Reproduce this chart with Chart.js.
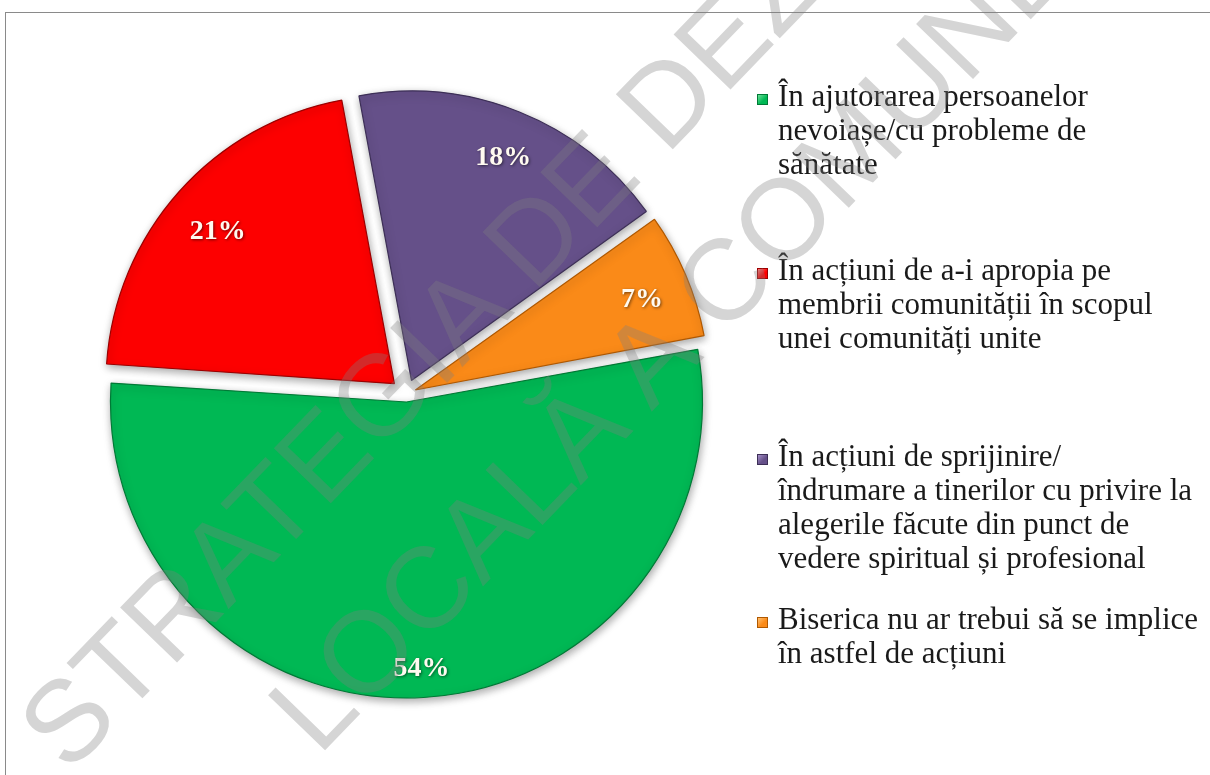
<!DOCTYPE html>
<html lang="ro">
<head>
<meta charset="utf-8">
<title>Implicarea Bisericii în comunitate</title>
<script src="https://cdn.jsdelivr.net/npm/chart.js@4.4.1/dist/chart.umd.min.js"></script>
<style>
  html, body { margin: 0; padding: 0; width: 1210px; height: 775px; overflow: hidden; background: #fff; }
  #frame { position: absolute; left: 5px; top: 12px; width: 1400px; height: 900px; border: 1px solid #8a8a8a; }
  #pieBox { position: absolute; left: 0; top: 13px; width: 812px; height: 762px; }
  #legend { position: absolute; left: 757px; top: 0; font-family: 'Liberation Serif', 'Times New Roman', serif;
            font-size: 31px; line-height: 34px; color: #1a1a1a; }
  #legend .item { position: absolute; left: 0; white-space: nowrap; }
  #legend .box { position: absolute; left: 0; top: 15px; width: 11px; height: 11px; box-sizing: border-box; }
  #legend .txt { margin-left: 21px; }
  .wm { position: absolute; font-family: 'Liberation Sans', Arial, sans-serif; font-size: 115px; line-height: 1;
        color: rgba(128, 128, 128, 0.33); white-space: nowrap; transform-origin: 0 50%;
        transform: rotate(-46deg); pointer-events: none; }
</style>
</head>
<body>
<div id="frame"></div>
<div id="pieBox"><canvas id="pie"></canvas></div>
<div id="legend"></div>
<div class="wm" style="left:40px; top:690px;">STRATEGIA DE DEZVOLTARE</div>
<div class="wm" style="left:290px; top:672px;">LOCALĂ A COMUNEI</div>

<script>
// categories, one entry per legend line
const categories = [
  ['În ajutorarea persoanelor', 'nevoiașe/cu probleme de', 'sănătate'],
  ['În acțiuni de a-i apropia pe', 'membrii comunității în scopul', 'unei comunități unite'],
  ['În acțiuni de sprijinire/', 'îndrumare a tinerilor cu privire la', 'alegerile făcute din punct de', 'vedere spiritual și profesional'],
  ['Biserica nu ar trebui să se implice', 'în astfel de acțiuni']
];
const shares = [54, 21, 18, 7];

const fillColors = ['#00b854', '#fd0000', '#655089', '#fa8a18'];
const edgeColors = ['#007a36', '#9c0000', '#3d2f57', '#b05800'];
const boxLight   = ['#6fe09a', '#ff7a7a', '#a590c8', '#ffc070'];

const EXPLODE = 16;     // px every slice is pulled out from the centre
const total = shares.reduce((a, b) => a + b, 0);

// shadow under the slices
const softShadow = {
  id: 'softShadow',
  beforeDatasetsDraw(chart) {
    const ctx = chart.ctx;
    ctx.save();
    ctx.shadowColor = 'rgba(0, 0, 0, 0.35)';
    ctx.shadowBlur = 9;
    ctx.shadowOffsetX = 1;
    ctx.shadowOffsetY = 3;
  },
  afterDatasetsDraw(chart) {
    chart.ctx.restore();
  }
};

// percentage inside the outer end of each slice
const pctLabels = {
  id: 'pctLabels',
  afterDatasetsDraw(chart) {
    const ctx = chart.ctx;
    const meta = chart.getDatasetMeta(0);
    ctx.save();
    ctx.font = 'bold 28px "Liberation Serif", serif';
    ctx.textAlign = 'center';
    ctx.textBaseline = 'middle';
    ctx.fillStyle = '#fffaf0';
    ctx.shadowColor = 'rgba(0, 0, 0, 0.55)';
    ctx.shadowBlur = 3;
    ctx.shadowOffsetX = 1;
    ctx.shadowOffsetY = 1;
    meta.data.forEach((arc, i) => {
      const {x, y, startAngle, endAngle, outerRadius} =
        arc.getProps(['x', 'y', 'startAngle', 'endAngle', 'outerRadius'], true);
      const mid = (startAngle + endAngle) / 2;
      const text = shares[i] + '%';
      const hw = ctx.measureText(text).width / 2 + 2;
      const hh = 11;
      const c = Math.cos(mid), s = Math.sin(mid);
      const dist = EXPLODE + outerRadius - 22 - (Math.abs(c) * hw + Math.abs(s) * hh);
      // digits sit a little below the em-box middle
      ctx.fillText(text, x + c * dist, y + s * dist + 6);
    });
    ctx.restore();
  }
};

const chart = new Chart(document.getElementById('pie'), {
  type: 'pie',
  data: {
    labels: categories,
    datasets: [{
      data: shares,
      backgroundColor: fillColors,
      borderColor: edgeColors,
      borderWidth: 1.2,
      // Chart.js scales the offset by slice size; undo that so all slices move out equally
      offset: (ctx) => {
        const sweep = ctx.dataset.data[ctx.dataIndex] / total * 2 * Math.PI;
        const fix = 1 - Math.sin(Math.min(Math.PI, sweep));
        return EXPLODE * 4 / (1 + fix);
      },
      hoverOffset: 0
    }]
  },
  options: {
    responsive: true,
    maintainAspectRatio: false,
    animation: false,
    rotation: 79.5,
    radius: 288,
    layout: { padding: 0 },
    plugins: {
      legend: { display: false },
      tooltip: { enabled: false }
    }
  },
  plugins: [softShadow, pctLabels]
});

// legend on the right, built from the chart data
const legendTops = [79, 253, 439, 602];
const legendEl = document.getElementById('legend');
chart.data.labels.forEach((lines, i) => {
  const item = document.createElement('div');
  item.className = 'item';
  item.style.top = legendTops[i] + 'px';

  const box = document.createElement('span');
  box.className = 'box';
  box.style.background = `linear-gradient(135deg, ${boxLight[i]}, ${fillColors[i]} 60%)`;
  box.style.border = '1px solid ' + edgeColors[i];
  item.appendChild(box);

  const txt = document.createElement('div');
  txt.className = 'txt';
  lines.forEach((line) => {
    const row = document.createElement('div');
    row.textContent = line;
    txt.appendChild(row);
  });
  item.appendChild(txt);
  legendEl.appendChild(item);
});
</script>
</body>
</html>
